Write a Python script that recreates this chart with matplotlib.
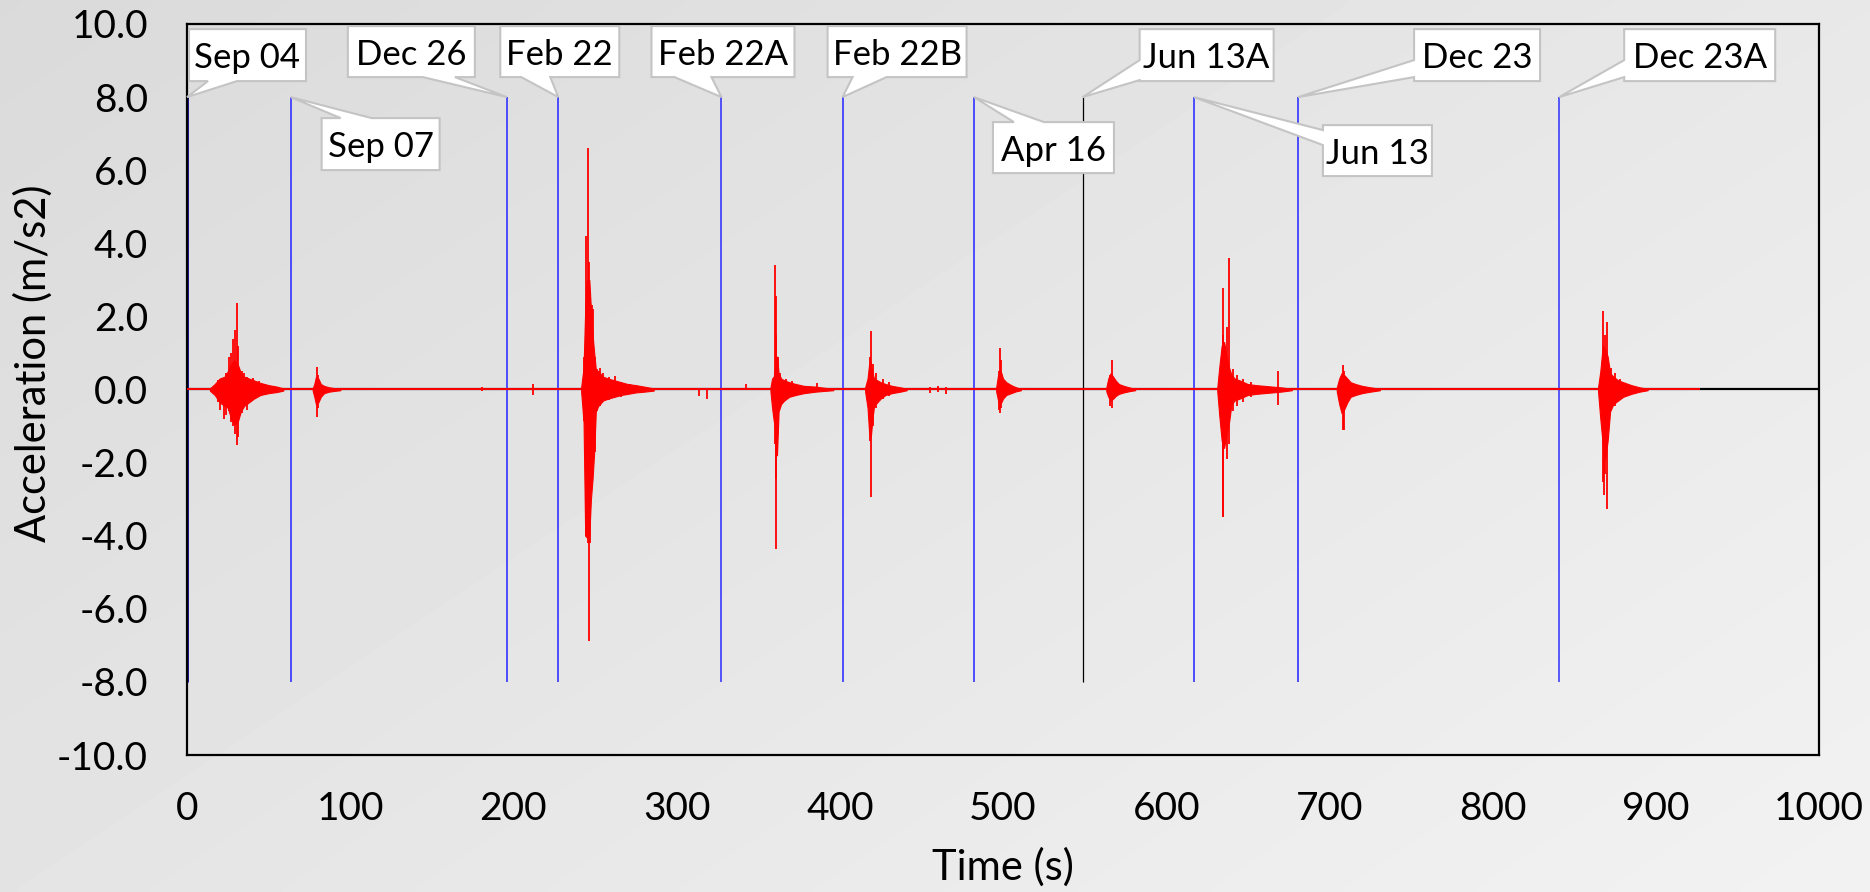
import numpy as np
import matplotlib
matplotlib.use("Agg")
import matplotlib.pyplot as plt
from matplotlib.patches import Polygon
from matplotlib.transforms import IdentityTransform

plt.rcParams['font.family'] = ['Lato', 'DejaVu Sans']
plt.rcParams['axes.unicode_minus'] = False

# ---------------- data ----------------
event_labels = ["Sep 04", "Sep 07", "Dec 26", "Feb 22", "Feb 22A", "Feb 22B",
                "Apr 16", "Jun 13A", "Jun 13", "Dec 23", "Dec 23A"]
event_times = [0.0, 63.5, 196.0, 227.5, 327.5, 401.7, 482.2, 548.8, 617.0, 680.8, 840.8]

x_ticks = [0, 100, 200, 300, 400, 500, 600, 700, 800, 900, 1000]
y_ticks = [-10.0, -8.0, -6.0, -4.0, -2.0, 0.0, 2.0, 4.0, 6.0, 8.0, 10.0]

record_end = 927.0  # end of the acceleration record (s)

# burst envelopes (time s, upper m/s2, lower m/s2)
b1_t  = [14, 17, 20, 23, 25, 27, 29, 31, 33, 35, 38, 41, 45, 50, 55, 59]
b1_hi = [.03, .15, .3, .35, .5, .7, .8, .7, .45, .35, .3, .25, .18, .12, .08, .03]
b1_lo = [-.03, -.15, -.35, -.45, -.5, -.8, -.95, -.9, -.6, -.45, -.35, -.25, -.15, -.1, -.07, -.03]

b2_t  = [77, 78, 79, 80.5, 82, 84, 87, 90, 94]
b2_hi = [.03, .15, .35, .3, .15, .1, .06, .04, .02]
b2_lo = [-.03, -.2, -.4, -.35, -.2, -.1, -.06, -.04, -.02]

b3_t  = [241.5, 243, 244, 245, 246.5, 247.5, 248.5, 249.5, 250.5, 252, 255, 258, 262, 266, 270, 275, 280, 286]
b3_hi = [.05, .6, 2.2, 3.0, 3.0, 2.2, 1.5, 1.0, .55, .5, .35, .3, .25, .2, .15, .12, .08, .03]
b3_lo = [-.05, -.9, -4.0, -4.05, -4.0, -3.0, -2.45, -1.7, -.6, -.45, -.3, -.25, -.2, -.15, -.12, -.08, -.06, -.03]

b4_t  = [357.5, 358.5, 359.5, 360.5, 361.5, 362.5, 364, 366, 369, 373, 378, 385, 390, 396]
b4_hi = [.05, .3, .35, .6, .9, .45, .3, .25, .2, .15, .1, .08, .05, .02]
b4_lo = [-.05, -.5, -.85, -1.1, -1.8, -.6, -.4, -.3, -.2, -.15, -.1, -.06, -.04, -.02]

b5_t  = [415.5, 417, 418, 419, 420, 421, 423, 425, 428, 432, 437, 441]
b5_hi = [.05, .3, .7, .75, .45, .3, .25, .2, .15, .1, .06, .02]
b5_lo = [-.05, -.5, -1.2, -1.3, -.8, -.45, -.35, -.25, -.15, -.1, -.06, -.02]

b6_t  = [495.8, 497, 498, 499, 500, 502, 505, 508, 511]
b6_hi = [.05, .4, .55, .45, .3, .2, .12, .06, .02]
b6_lo = [-.05, -.3, -.41, -.35, -.25, -.15, -.1, -.05, -.02]

b7_t  = [563.3, 564.5, 566, 567.5, 569, 571, 574, 578, 581]
b7_hi = [.05, .3, .45, .35, .25, .15, .1, .05, .02]
b7_lo = [-.05, -.2, -.3, -.25, -.18, -.12, -.08, -.04, -.02]

b8_t  = [631.3, 632.5, 634, 635.5, 637, 638.5, 640, 642, 645, 650, 655, 660, 665, 670, 677]
b8_hi = [.05, .6, 1.2, 1.3, .9, .6, .4, .3, .25, .15, .12, .1, .08, .06, .02]
b8_lo = [-.05, -.7, -1.4, -1.6, -1.2, -.9, -.4, -.3, -.25, -.15, -.12, -.1, -.08, -.06, -.02]

b9_t  = [704.5, 706, 707.5, 709, 711, 713, 716, 720, 725, 731]
b9_hi = [.05, .3, .45, .4, .3, .2, .15, .1, .06, .02]
b9_lo = [-.05, -.4, -.65, -.55, -.35, -.2, -.15, -.1, -.06, -.02]

b10_t  = [864.6, 866, 867.5, 869, 870.5, 872, 874, 877, 880, 885, 890, 895]
b10_hi = [.05, .5, 1.2, 1.1, .9, .45, .35, .25, .2, .12, .06, .02]
b10_lo = [-.05, -.8, -1.5, -1.9, -1.4, -.6, -.4, -.3, -.2, -.12, -.06, -.02]

# individual peak spikes (time, max, min)
spike_t  = [19.0, 20.5, 22.7, 24.0, 25.7, 27.0, 28.4, 29.4, 30.9, 31.5, 33.5, 35.0, 37.0, 40.6, 44.0, 48.0,
            79.5, 80.2, 180.5, 211.9,
            243.3, 244.3, 245.0, 245.8, 246.4, 247.0, 248.0, 248.6, 250.0, 251.5, 253.0, 255.0,
            258.5, 262.0, 266.0, 271.5,
            313.8, 318.9, 342.4,
            360.4, 361.0, 361.2, 362.0, 363.5, 367.0, 371.0, 386.0,
            418.3, 419.0, 420.2, 422.0, 426.5, 430.0, 455.0, 460.0, 465.0,
            497.4, 498.2, 498.8,
            565.5, 566.5,
            634.9, 635.1, 637.3, 638.4, 641.0, 643.5, 647.0, 652.0, 668.4,
            708.3, 708.8,
            867.8, 868.2, 869.0, 870.3, 872.5, 875.0, 878.0]
spike_hi = [0.25, 0.3, 0.2, 0.45, 0.9, 1.0, 1.37, 1.64, 2.37, 1.2, 0.5, 0.45, 0.35, 0.31, 0.22, 0.15,
            0.62, 0.4, 0.06, 0.14,
            0.9, 4.2, 2.8, 6.6, 3.5, 2.5, 2.3, 2.19, 0.9, 0.55, 0.6, 0.45,
            0.35, 0.36, 0.2, 0.14,
            0.0, 0.0, 0.14,
            3.4, 2.55, 1.5, 0.9, 0.45, 0.3, 0.22, 0.18,
            0.9, 1.61, 0.7, 0.45, 0.3, 0.2, 0.08, 0.1, 0.06,
            0.5, 1.14, 0.8,
            0.4, 0.82,
            2.78, 1.5, 1.7, 3.6, 0.55, 0.4, 0.3, 0.2, 0.5,
            0.68, 0.5,
            2.14, 1.0, 1.5, 1.84, 0.6, 0.45, 0.3]
spike_lo = [-0.35, -0.55, -0.8, -0.7, -0.6, -0.9, -1.0, -1.22, -1.52, -1.3, -0.64, -0.45, -0.55, -0.2, -0.18, -0.15,
            -0.75, -0.5, -0.05, -0.14,
            -0.87, -4.0, -4.0, -4.2, -6.88, -4.2, -2.45, -2.0, -1.7, -0.6, -0.45, -0.3,
            -0.3, -0.2, -0.2, -0.1,
            -0.19, -0.27, 0.0,
            -1.5, -2.46, -4.37, -1.2, -0.5, -0.3, -0.2, -0.05,
            -1.4, -2.94, -1.0, -0.5, -0.25, -0.18, -0.1, -0.08, -0.12,
            -0.55, -0.64, -0.5,
            -0.45, -0.5,
            -3.5, -3.5, -1.9, -1.5, -0.6, -0.45, -0.35, -0.2, -0.43,
            -1.12, -1.1,
            -2.53, -2.9, -2.3, -3.28, -0.6, -0.45, -0.3]

bursts = [(b1_t, b1_hi, b1_lo), (b2_t, b2_hi, b2_lo), (b3_t, b3_hi, b3_lo),
          (b4_t, b4_hi, b4_lo), (b5_t, b5_hi, b5_lo), (b6_t, b6_hi, b6_lo),
          (b7_t, b7_hi, b7_lo), (b8_t, b8_hi, b8_lo), (b9_t, b9_hi, b9_lo),
          (b10_t, b10_hi, b10_lo)]

# ---------------- layout / style ----------------
W, H, DPI = 1870, 892, 100
AX_L, AX_R, AX_T, AX_B = 187, 1819, 24, 755   # pixel box of the plot area
LINE_TOP, LINE_BOTTOM = 8.0, -8.0
line_colors = ['#00008b', '#4040ff', '#4040ff', '#4040ff', '#2a2aff', '#4040ff',
               '#4040ff', '#000000', '#4040ff', '#4040ff', '#3030ff']
line_widths = [2.0, 1.3, 1.3, 1.3, 1.1, 1.3, 1.3, 0.9, 1.3, 1.3, 1.1]
# callout boxes: dx_left, dx_right, dy_top, dy_bottom (px, relative to tip), wedge side, base1, base2
callouts = [(2, 119, -68, -16, 'bottom', 21, 50),
            (31, 149, 21, 73, 'top', 50, 81),
            (-159, -32, -71, -20, 'bottom', -84, -52),
            (-58, 61, -71, -20, 'bottom', -37, -8),
            (-70, 73, -71, -20, 'bottom', -47, -10),
            (-15, 124, -71, -20, 'bottom', 10, 44),
            (19, 140, 25, 76, 'top', 40, 70),
            (57, 191, -68, -16, 'left', -37, -17),
            (129, 238, 28, 79, 'left', 33, 48),
            (116, 242, -68, -16, 'left', -37, -20),
            (65, 216, -68, -16, 'left', -37, -20)]

fig = plt.figure(figsize=(W / DPI, H / DPI), dpi=DPI)

# gradient background
bg = fig.add_axes([0, 0, 1, 1], zorder=0)
gx, gy = np.meshgrid(np.linspace(0, 1, 300), np.linspace(0, 1, 150))
shade = (218 + 14 * gx + 10 * gy) / 255.0
bg.imshow(shade, cmap='gray', vmin=0, vmax=1, extent=[0, 1, 0, 1], aspect='auto',
          origin='upper', interpolation='bilinear')
bg.axis('off')

ax = fig.add_axes([AX_L / W, 1 - AX_B / H, (AX_R - AX_L) / W, (AX_B - AX_T) / H], zorder=1)
ax.patch.set_alpha(0)
ax.set_xlim(0, 1000)
ax.set_ylim(-10, 10)
ax.set_xticks(x_ticks)
ax.set_xticklabels([f"{v:d}" for v in x_ticks])
ax.set_yticks(y_ticks)
ax.set_yticklabels([f"{v:.1f}" for v in y_ticks])
ax.tick_params(axis='both', length=0, labelsize=28, colors='black')
ax.tick_params(axis='x', pad=26)
ax.tick_params(axis='y', pad=28)
for sp in ax.spines.values():
    sp.set_color('black')
    sp.set_linewidth(1.6)

# zero line
ax.axhline(0, color='black', lw=1.6, zorder=2)

# event lines
ax.vlines(event_times, LINE_BOTTOM, LINE_TOP, colors=line_colors, linewidths=line_widths, zorder=2.5)

# acceleration trace
ax.plot([0, record_end], [0, 0], color='red', lw=1.4, zorder=3, solid_capstyle='butt')
for t, hi, lo in bursts:
    ax.fill_between(t, lo, hi, color='red', lw=0.8, zorder=3)
ax.vlines(spike_t, spike_lo, spike_hi, colors='red', linewidths=1.3, zorder=3)

# callouts
for lab, t, (dl, dr, dt, db, side, b1, b2) in zip(event_labels, event_times, callouts):
    tx, ty_disp = ax.transData.transform((t, LINE_TOP))
    ty = H - ty_disp  # image y
    L, R, T, B = tx + dl, tx + dr, ty + dt, ty + db
    if side == 'bottom':
        pts = [(L, T), (R, T), (R, B), (tx + b2, B), (tx, ty), (tx + b1, B), (L, B)]
    elif side == 'top':
        pts = [(L, T), (tx + b1, T), (tx, ty), (tx + b2, T), (R, T), (R, B), (L, B)]
    else:
        pts = [(L, T), (R, T), (R, B), (L, B), (L, ty + b2), (tx, ty), (L, ty + b1)]
    pts_disp = [(x, H - y) for x, y in pts]
    poly = Polygon(pts_disp, closed=True, facecolor='white', edgecolor='#c4c4c4',
                   lw=1.5, joinstyle='miter', transform=IdentityTransform(), zorder=5,
                   clip_on=False)
    ax.add_patch(poly)
    cx = (L + R) / 2
    cy = (T + B) / 2 + 13
    ax.text(cx, H - cy, lab, transform=IdentityTransform(), ha='center', va='baseline',
            fontsize=25, color='black', zorder=6, clip_on=False)

# axis titles
fig.text((AX_L + AX_R) / 2 / W, 1 - 880 / H, "Time (s)", ha='center', va='baseline',
         fontsize=30, color='black')
fig.text(33 / W, 1 - 363 / H, "Acceleration (m/s2)", rotation=90, ha='center', va='center',
         fontsize=30, color='black')

fig.savefig("out.png", dpi=DPI)
